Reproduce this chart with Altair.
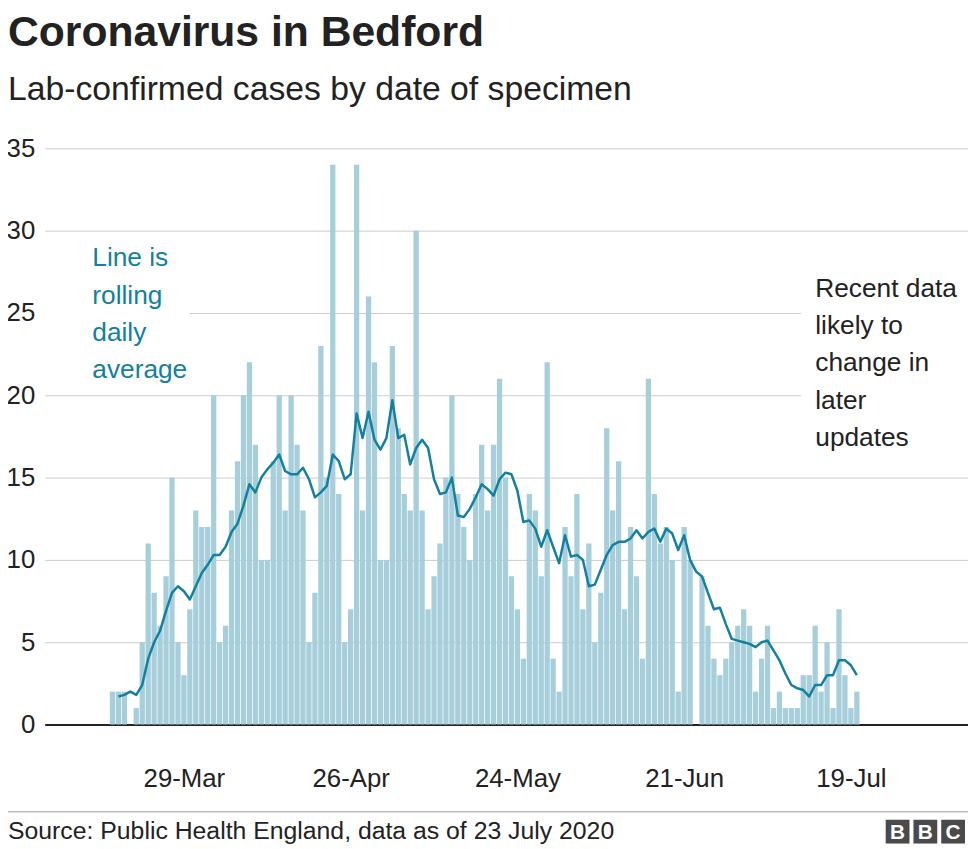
import altair as alt
import pandas as pd

# ---------------- data ----------------
start_date = "2020-03-17"
cases = [2, 2, 2, 0, 1, 5, 11, 8, 6, 9, 15, 5, 3, 7, 13, 12, 12, 20,
         5, 6, 13, 16, 20, 22, 17, 10, 10, 16, 20, 13, 20, 17, 13, 5, 8, 23,
         15, 34, 14, 5, 7, 34, 13, 26, 22, 10, 10, 23, 18, 14, 13, 30, 13, 7,
         9, 11, 15, 20, 14, 12, 10, 14, 17, 13, 17, 21, 15, 9, 7, 4, 14, 13,
         9, 22, 4, 2, 12, 9, 14, 7, 11, 5, 8, 18, 13, 16, 7, 12, 9, 4,
         21, 14, 11, 12, 10, 2, 12, 10, 0, 9, 6, 4, 3, 4, 5, 6, 7, 6,
         2, 4, 6, 1, 2, 1, 1, 1, 3, 3, 6, 2, 5, 1, 7, 3, 1, 2]
rolling_avg = [None, 1.7, 1.8, 2.0, 1.8, 2.4, 4.0, 5.0, 5.7, 6.9, 8.0, 8.4, 8.1, 7.6, 8.4, 9.2, 9.7, 10.3,
               10.3, 10.8, 11.7, 12.2, 13.3, 14.6, 14.1, 15.0, 15.5, 15.9, 16.4, 15.4, 15.2, 15.2, 15.6, 14.9, 13.8, 14.1,
               14.5, 16.4, 16.0, 14.9, 15.2, 18.9, 17.4, 19.0, 17.3, 16.7, 17.4, 19.7, 17.4, 17.6, 15.8, 16.8, 17.3, 16.8,
               14.9, 14.0, 14.1, 15.0, 12.7, 12.6, 13.1, 13.8, 14.6, 14.3, 13.9, 14.9, 15.3, 15.2, 14.2, 12.3, 12.4, 11.9,
               10.8, 11.8, 10.8, 9.8, 11.5, 10.2, 10.3, 10.0, 8.4, 8.5, 9.4, 10.3, 10.9, 11.1, 11.1, 11.3, 11.8, 11.3,
               11.7, 11.9, 11.1, 11.9, 11.6, 10.6, 11.5, 10.0, 9.3, 9.0, 8.0, 7.0, 7.1, 6.1, 5.2, 5.1, 5.0, 4.9,
               4.7, 5.0, 5.1, 4.5, 3.9, 3.1, 2.4, 2.2, 2.1, 1.7, 2.4, 2.4, 3.0, 3.0, 3.9, 3.9, 3.6, 3.0]
tick_dates = [(2020, 3, 29), (2020, 4, 26), (2020, 5, 24), (2020, 6, 21), (2020, 7, 19)]
y_ticks = [0, 5, 10, 15, 20, 25, 30, 35]

title_text = "Coronavirus in Bedford"
subtitle_text = "Lab-confirmed cases by date of specimen"
source_text = "Source: Public Health England, data as of 23 July 2020"
note_left = ["Line is", "rolling", "daily", "average"]
note_right = ["Recent data", "likely to", "change in", "later", "updates"]
logo_letters = ["B", "B", "C"]

dates = pd.date_range(start_date, periods=len(cases)).strftime("%Y-%m-%d")
df = pd.DataFrame({"date": dates, "cases": cases, "avg": rolling_avg})

# ---------------- layout / style ----------------
FONT = "Liberation Sans"
W, H = 931, 581
BAR_COLOR = "#a6cedb"
LINE_COLOR = "#1380a1"
TEXT = "#222222"

x_scale = alt.Scale(
    type="utc",
    domain=[alt.DateTime(year=2020, month=3, date=6, hours=10, minutes=56, utc=True),
            alt.DateTime(year=2020, month=8, date=6, hours=20, utc=True)],
)
x_axis = alt.Axis(
    values=[alt.DateTime(year=y, month=m, date=d, utc=True) for (y, m, d) in tick_dates],
    labelExpr="utcFormat(datum.value, '%d-%b')",
    title=None, grid=False, ticks=False, domain=True, domainColor=TEXT, domainWidth=2,
    labelFont=FONT, labelFontSize=26, labelColor=TEXT, labelPadding=41,
)
y_scale = alt.Scale(domain=[0, 35], nice=False)
y_axis = alt.Axis(
    values=y_ticks, title=None, grid=True, gridColor="#cccccc", gridWidth=1,
    ticks=False, domain=False, labelFont=FONT, labelFontSize=26, labelColor=TEXT,
    labelPadding=10,
)

one = alt.Data(values=[{"k": 0}])

# white boxes that mask gridlines behind annotations
mask_left = alt.Chart(one).mark_rect(color="white").encode(
    x=alt.value(0), x2=alt.value(146), y=alt.value(95), y2=alt.value(238))
mask_right = alt.Chart(one).mark_rect(color="white").encode(
    x=alt.value(763), x2=alt.value(931), y=alt.value(125), y2=alt.value(308))

bars = alt.Chart(df).mark_bar(size=5.3, color=BAR_COLOR).encode(
    x=alt.X("date:T", scale=x_scale, axis=x_axis),
    y=alt.Y("cases:Q", scale=y_scale, axis=y_axis),
)
line = alt.Chart(df).mark_line(color=LINE_COLOR, strokeWidth=2.5, strokeJoin="round").encode(
    x=alt.X("date:T", scale=x_scale),
    y=alt.Y("avg:Q", scale=y_scale),
)

note_l = alt.Chart(one).mark_text(
    text=note_left, align="left", baseline="alphabetic", font=FONT, fontSize=26.5,
    lineHeight=37.5, color=LINE_COLOR,
).encode(x=alt.value(48), y=alt.value(119))
note_r = alt.Chart(one).mark_text(
    text=note_right, align="left", baseline="alphabetic", font=FONT, fontSize=26.5,
    lineHeight=37.5, color=TEXT,
).encode(x=alt.value(777), y=alt.value(150))

title = alt.Chart(one).mark_text(
    text=title_text, align="left", baseline="alphabetic", font=FONT, fontSize=43,
    fontWeight="bold", color=TEXT,
).encode(x=alt.value(-37), y=alt.value(-103))
subtitle = alt.Chart(one).mark_text(
    text=subtitle_text, align="left", baseline="alphabetic", font=FONT, fontSize=34,
    color=TEXT,
).encode(x=alt.value(-37), y=alt.value(-49))

sep = alt.Chart(one).mark_rule(color="#999999", strokeWidth=1).encode(
    x=alt.value(-45), x2=alt.value(931), y=alt.value(669))
source = alt.Chart(one).mark_text(
    text=source_text, align="left", baseline="alphabetic", font=FONT, fontSize=25,
    color=TEXT,
).encode(x=alt.value(-37), y=alt.value(696))

logo_layers = []
for i, letter in enumerate(logo_letters):
    x0 = 848 + i * 28
    logo_layers.append(alt.Chart(one).mark_rect(color="#4a4a4a").encode(
        x=alt.value(x0), x2=alt.value(x0 + 24), y=alt.value(677), y2=alt.value(701)))
    logo_layers.append(alt.Chart(one).mark_text(
        text=letter, font=FONT, fontSize=21, fontWeight="bold", color="white",
        baseline="middle", align="center",
    ).encode(x=alt.value(x0 + 12), y=alt.value(690)))

chart = alt.layer(
    mask_left, mask_right, bars, line, note_l, note_r, title, subtitle, sep, source,
    *logo_layers,
).properties(
    width=W, height=H,
    padding={"left": 37, "top": 138, "right": 0, "bottom": 122},
    autosize=alt.AutoSizeParams(type="none"),
    background="white",
).configure_view(stroke=None)

chart.save("out.html", embed_options={"renderer": "svg", "actions": False})
